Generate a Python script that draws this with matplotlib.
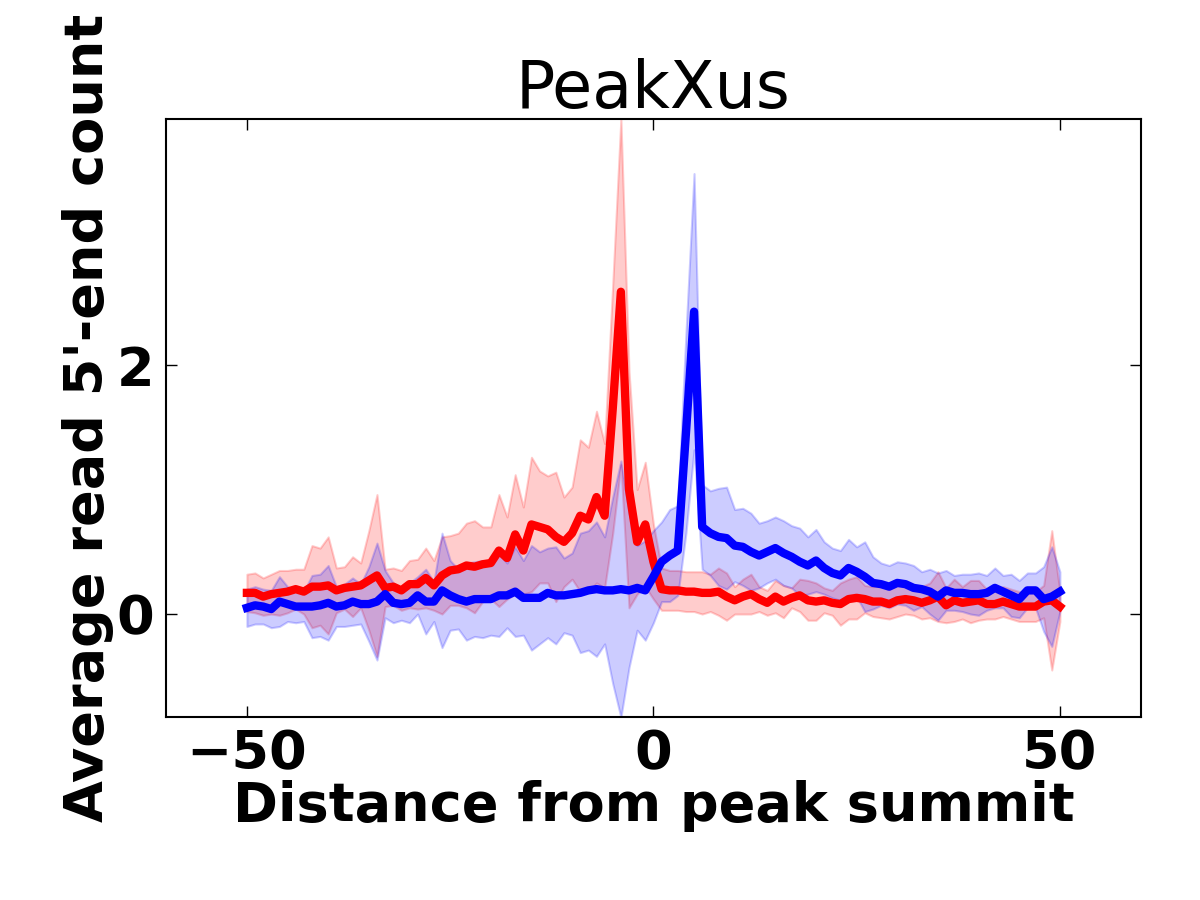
import numpy as np
import matplotlib
matplotlib.use("Agg")
import matplotlib.pyplot as plt

positions = list(range(-50, 51))

red_mean = [0.17, 0.17, 0.14, 0.16, 0.17, 0.18, 0.20, 0.18, 0.22, 0.22,
            0.23, 0.19, 0.21, 0.22, 0.23, 0.27, 0.31, 0.21, 0.22, 0.19,
            0.24, 0.24, 0.29, 0.23, 0.31, 0.35, 0.36, 0.39, 0.38, 0.40,
            0.41, 0.51, 0.45, 0.64, 0.51, 0.72, 0.70, 0.68, 0.62, 0.58,
            0.65, 0.79, 0.76, 0.94, 0.79, 1.65, 2.59, 1.00, 0.58, 0.72,
            0.42,
            0.20, 0.19, 0.19, 0.18, 0.18, 0.17, 0.17, 0.18, 0.14, 0.11,
            0.14, 0.16, 0.12, 0.09, 0.14, 0.10, 0.13, 0.15, 0.11, 0.10,
            0.11, 0.09, 0.08, 0.12, 0.13, 0.12, 0.10, 0.10, 0.08, 0.11,
            0.12, 0.11, 0.09, 0.11, 0.14, 0.07, 0.11, 0.09, 0.10, 0.11,
            0.08, 0.08, 0.10, 0.08, 0.06, 0.06, 0.06, 0.10, 0.11, 0.06]

red_std = [0.15, 0.16, 0.15, 0.16, 0.18, 0.17, 0.16, 0.18, 0.33, 0.31,
           0.39, 0.18, 0.17, 0.24, 0.18, 0.40, 0.65, 0.15, 0.15, 0.16,
           0.19, 0.20, 0.24, 0.20, 0.31, 0.28, 0.29, 0.34, 0.37, 0.30,
           0.29, 0.45, 0.33, 0.48, 0.35, 0.54, 0.45, 0.43, 0.52, 0.36,
           0.37, 0.61, 0.58, 0.69, 0.58, 1.00, 1.39, 0.95, 0.42, 0.50,
           0.30,
           0.17, 0.16, 0.16, 0.16, 0.16, 0.17, 0.15, 0.19, 0.19, 0.11,
           0.14, 0.16, 0.10, 0.10, 0.13, 0.13, 0.08, 0.13, 0.16, 0.15,
           0.10, 0.10, 0.17, 0.16, 0.17, 0.11, 0.12, 0.13, 0.12, 0.13,
           0.12, 0.12, 0.13, 0.14, 0.20, 0.14, 0.17, 0.13, 0.17, 0.16,
           0.12, 0.12, 0.12, 0.12, 0.12, 0.12, 0.12, 0.13, 0.56, 0.12]

blue_mean = [0.05, 0.07, 0.06, 0.04, 0.10, 0.08, 0.06, 0.06, 0.06, 0.07,
             0.09, 0.06, 0.07, 0.10, 0.08, 0.08, 0.10, 0.16, 0.09, 0.08,
             0.09, 0.15, 0.10, 0.10, 0.19, 0.15, 0.12, 0.10, 0.12, 0.12,
             0.12, 0.15, 0.15, 0.18, 0.13, 0.13, 0.13, 0.17, 0.15, 0.15,
             0.16, 0.17, 0.19, 0.20, 0.19, 0.19, 0.20, 0.19, 0.21, 0.19,
             0.30,
             0.42, 0.47, 0.51, 1.45, 2.43, 0.70, 0.65, 0.62, 0.61, 0.55,
             0.54, 0.50, 0.47, 0.50, 0.53, 0.49, 0.46, 0.42, 0.39, 0.43,
             0.37, 0.33, 0.31, 0.37, 0.34, 0.30, 0.25, 0.24, 0.22, 0.25,
             0.24, 0.21, 0.20, 0.18, 0.14, 0.19, 0.17, 0.17, 0.16, 0.16,
             0.17, 0.21, 0.18, 0.15, 0.12, 0.19, 0.19, 0.12, 0.14, 0.18]

blue_std = [0.15, 0.15, 0.14, 0.15, 0.20, 0.14, 0.13, 0.12, 0.25, 0.25,
            0.30, 0.16, 0.17, 0.19, 0.16, 0.30, 0.47, 0.19, 0.16, 0.13,
            0.16, 0.15, 0.26, 0.16, 0.46, 0.28, 0.24, 0.31, 0.30, 0.31,
            0.29, 0.33, 0.26, 0.36, 0.30, 0.42, 0.37, 0.36, 0.39, 0.30,
            0.33, 0.48, 0.48, 0.54, 0.43, 0.75, 1.03, 0.62, 0.34, 0.40,
            0.37,
            0.32, 0.37, 0.36, 0.80, 1.11, 0.34, 0.34, 0.39, 0.41, 0.29,
            0.31, 0.31, 0.26, 0.25, 0.25, 0.26, 0.25, 0.27, 0.23, 0.25,
            0.21, 0.20, 0.20, 0.23, 0.20, 0.28, 0.21, 0.17, 0.17, 0.17,
            0.17, 0.18, 0.14, 0.18, 0.19, 0.16, 0.14, 0.15, 0.16, 0.17,
            0.14, 0.16, 0.13, 0.17, 0.15, 0.14, 0.14, 0.26, 0.40, 0.16]

x_ticks = [-50, 0, 50]
y_ticks = [0, 2]
title = "PeakXus"
x_label = "Distance from peak summit"
y_label = "Average read 5'-end count"

x = np.array(positions)
rm, rs = np.array(red_mean), np.array(red_std)
bm, bs = np.array(blue_mean), np.array(blue_std)

fig = plt.figure(figsize=(12, 9), dpi=100)
ax = fig.add_axes([0.138, 0.203, 0.813, 0.665])

ax.fill_between(x, rm - rs, rm + rs, color="red", alpha=0.2, linewidth=1.5)
ax.fill_between(x, bm - bs, bm + bs, color="blue", alpha=0.2, linewidth=1.5)
ax.plot(x, rm, color="red", linewidth=6)
ax.plot(x, bm, color="blue", linewidth=6)

lo = min((rm - rs).min(), (bm - bs).min())
hi = max((rm + rs).max(), (bm + bs).max())
ax.set_xlim(-60, 60)
ax.set_ylim(lo, hi)
ax.set_xticks(x_ticks)
ax.set_yticks(y_ticks)
ax.tick_params(direction="in", top=True, right=True, length=8, width=1,
               labelsize=39, pad=8)
for lab in ax.get_xticklabels() + ax.get_yticklabels():
    lab.set_fontweight("bold")
for sp in ax.spines.values():
    sp.set_linewidth(1.5)

ax.set_title(title, fontsize=47, pad=8)
ax.set_xlabel(x_label, fontsize=39, fontweight="bold", labelpad=0)
ax.set_ylabel(y_label, fontsize=39, fontweight="bold", labelpad=2)

fig.savefig("out.png", dpi=100, facecolor="white")
